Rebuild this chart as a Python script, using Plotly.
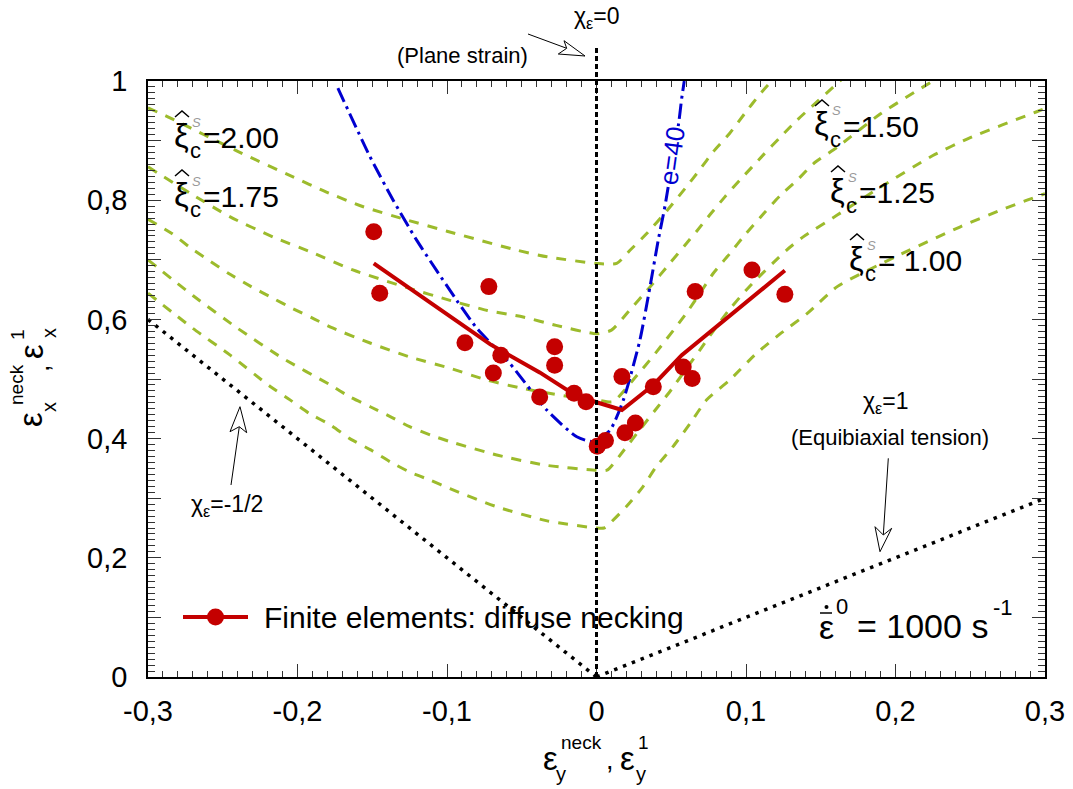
import plotly.graph_objects as go

FONT = "Liberation Sans, Arial, sans-serif"

# ---------------- data ----------------
# Finite element results (diffuse necking)
fe_x = [-0.149, -0.145, -0.072, -0.088, -0.064, -0.069, -0.028, -0.028, -0.038, -0.015, -0.007,
        0.017, 0.038, 0.058, 0.064, 0.066, 0.026, 0.019, 0.006, 0.0005, 0.104, 0.126]
fe_y = [0.747, 0.644, 0.655, 0.561, 0.540, 0.510, 0.554, 0.523, 0.470, 0.476, 0.462,
        0.504, 0.487, 0.520, 0.501, 0.647, 0.426, 0.410, 0.397, 0.387, 0.683, 0.642]
fe_fit_x = [-0.149, -0.071, -0.038, -0.015, 0.0, 0.017, 0.038, 0.057, 0.126]
fe_fit_y = [0.694, 0.558, 0.511, 0.474, 0.461, 0.448, 0.490, 0.540, 0.682]

# e = 40 curve
e40_x = [-0.173, -0.1515, -0.136, -0.1203, -0.0935, -0.080, -0.0579, -0.0333, -0.0132, -0.002,
         0.009, 0.018, 0.029, 0.0358, 0.0413, 0.0458, 0.051, 0.055, 0.057, 0.0587]
e40_y = [0.988, 0.873, 0.800, 0.733, 0.632, 0.585, 0.526, 0.448, 0.403, 0.395,
         0.414, 0.465, 0.565, 0.655, 0.733, 0.790, 0.870, 0.930, 0.971, 1.000]

# analytical curves for xi_c = 2.00, 1.75, 1.50, 1.25, 1.00
xi2_x = [-0.3, -0.286, -0.24, -0.203, -0.181, -0.156, -0.127, -0.1, -0.053, -0.033, 0.0, 0.0135,
         0.0224, 0.0336, 0.047, 0.060, 0.069, 0.078, 0.089, 0.099, 0.109, 0.119]
xi2_y = [0.955, 0.939, 0.882, 0.839, 0.814, 0.789, 0.767, 0.748, 0.716, 0.705, 0.694, 0.694,
         0.716, 0.744, 0.782, 0.822, 0.851, 0.881, 0.912, 0.945, 0.977, 1.005]

xi175_x = [-0.3, -0.272, -0.245, -0.216, -0.189, -0.163, -0.125, -0.098, -0.073, -0.049, -0.027, 0.0,
           0.010, 0.022, 0.036, 0.049, 0.060, 0.067, 0.076, 0.086, 0.096, 0.1116, 0.123, 0.134, 0.165]
xi175_y = [0.856, 0.812, 0.772, 0.738, 0.711, 0.683, 0.652, 0.632, 0.615, 0.604, 0.590, 0.576,
           0.582, 0.615, 0.655, 0.694, 0.727, 0.748, 0.776, 0.806, 0.834, 0.876, 0.906, 0.934, 1.005]

xi150_x = [-0.3, -0.284, -0.271, -0.258, -0.246, -0.231, -0.216, -0.203, -0.189, -0.177, -0.151,
           -0.125, -0.098, -0.073, -0.049, -0.022, 0.0, 0.011, 0.025, 0.040, 0.060, 0.069, 0.078,
           0.089, 0.100, 0.112, 0.123, 0.134, 0.145, 0.161, 0.19, 0.225]
xi150_y = [0.768, 0.744, 0.719, 0.697, 0.677, 0.655, 0.635, 0.618, 0.601, 0.586, 0.560,
           0.537, 0.518, 0.498, 0.484, 0.472, 0.465, 0.462, 0.500, 0.545, 0.610, 0.643, 0.677,
           0.710, 0.744, 0.778, 0.808, 0.833, 0.861, 0.889, 0.945, 1.0]

xi125_x = [-0.3, -0.27, -0.24, -0.21, -0.178, -0.165, -0.151, -0.138, -0.125, -0.111, -0.098, -0.066,
           -0.033, 0.0, 0.007, 0.020, 0.029, 0.040, 0.050, 0.060, 0.069, 0.078, 0.089, 0.103, 0.127,
           0.138, 0.161, 0.19, 0.225, 0.25, 0.294, 0.3]
xi125_y = [0.700, 0.640, 0.585, 0.535, 0.490, 0.470, 0.453, 0.437, 0.420, 0.406, 0.395, 0.372,
           0.355, 0.347, 0.347, 0.386, 0.415, 0.450, 0.482, 0.517, 0.548, 0.580, 0.617, 0.657, 0.716,
           0.738, 0.775, 0.822, 0.875, 0.905, 0.948, 0.954]

xi100_x = [-0.3, -0.27, -0.245, -0.218, -0.205, -0.192, -0.178, -0.165, -0.151, -0.138, -0.125, -0.111,
           -0.098, -0.066, -0.033, 0.0, 0.005, 0.009, 0.020, 0.031, 0.040, 0.051, 0.0625, 0.0737, 0.089,
           0.107, 0.123, 0.141, 0.161, 0.2, 0.243, 0.27, 0.288, 0.3]
xi100_y = [0.644, 0.585, 0.540, 0.487, 0.465, 0.442, 0.423, 0.400, 0.381, 0.361, 0.344, 0.330,
           0.316, 0.285, 0.262, 0.250, 0.250, 0.258, 0.286, 0.319, 0.353, 0.386, 0.425, 0.465, 0.498,
           0.543, 0.576, 0.610, 0.655, 0.705, 0.755, 0.783, 0.800, 0.811]

# strain-path reference lines
chi_m12_x = [-0.3, 0.0]
chi_m12_y = [0.6, 0.0]
chi_1_x = [0.0, 0.3]
chi_1_y = [0.0, 0.3]

x_ticks = [-0.3, -0.2, -0.1, 0.0, 0.1, 0.2, 0.3]
x_tick_text = ["-0,3", "-0,2", "-0,1", "0", "0,1", "0,2", "0,3"]
y_ticks = [0.0, 0.1, 0.2, 0.3, 0.4, 0.5, 0.6, 0.7, 0.8, 0.9, 1.0]
y_tick_text = ["0", " ", "0,2", " ", "0,4", " ", "0,6", " ", "0,8", " ", "1"]

# ---------------- styles ----------------
RED = "#C40000"
BLUE = "#0000D0"
GREEN = "#9CBB2C"

# ---------------- figure ----------------
fig = go.Figure()

for gx, gy in [(xi2_x, xi2_y), (xi175_x, xi175_y), (xi150_x, xi150_y),
               (xi125_x, xi125_y), (xi100_x, xi100_y)]:
    fig.add_trace(go.Scatter(x=gx, y=gy, mode="lines",
                             line=dict(color=GREEN, width=3, dash="10px,9px", shape="spline", smoothing=0.6),
                             hoverinfo="skip", showlegend=False))

fig.add_trace(go.Scatter(x=chi_m12_x, y=chi_m12_y, mode="lines",
                         line=dict(color="black", width=3.5, dash="3.5px,6px"), showlegend=False))
fig.add_trace(go.Scatter(x=chi_1_x, y=chi_1_y, mode="lines",
                         line=dict(color="black", width=3.5, dash="3.5px,6px"), showlegend=False))

fig.add_trace(go.Scatter(x=e40_x, y=e40_y, mode="lines",
                         line=dict(color=BLUE, width=3, dash="15px,5px,3px,5px", shape="spline", smoothing=0.6),
                         showlegend=False))

fig.add_trace(go.Scatter(x=fe_fit_x, y=fe_fit_y, mode="lines",
                         line=dict(color=RED, width=4), showlegend=False))
fig.add_trace(go.Scatter(x=fe_x, y=fe_y, mode="markers",
                         marker=dict(color=RED, size=17), showlegend=False))

L, R, T, B = 148, 1045, 81, 677
W_, H_ = R - L, B - T


def px(x):
    return (x - L) / W_


def py(y):
    return (B - y) / H_


def ann(x, y, text, size, color="black", xanchor="center", yanchor="middle", angle=0, **kw):
    return dict(x=px(x), y=py(y), xref="paper", yref="paper", text=text, showarrow=False,
                font=dict(size=size, color=color, family=FONT), xanchor=xanchor, yanchor=yanchor,
                textangle=angle, **kw)


annotations = []
shapes = []

# vertical plane-strain line (extends above frame)
shapes.append(dict(type="line", xref="x domain", yref="y domain", x0=0.5, x1=0.5, y0=0, y1=py(48),
                   line=dict(color="black", width=3, dash="5px,3px")))


def arrow(tail, notch, tip, b1, b2):
    shapes.append(dict(type="line", xref="paper", yref="paper", x0=px(tail[0]), y0=py(tail[1]),
                       x1=px(notch[0]), y1=py(notch[1]), line=dict(color="black", width=1)))
    pts = [tip, b1, notch, b2]
    path = "M " + " L ".join(f"{px(a):.5f},{py(b):.5f}" for a, b in pts) + " Z"
    shapes.append(dict(type="path", xref="paper", yref="paper", path=path, fillcolor="white",
                       line=dict(color="black", width=1)))


arrow((528, 34), (566.7, 48.3), (585, 56), (564, 40.7), (558.3, 54))
arrow((231, 485), (239.3, 426.7), (240, 406.7), (230, 431.7), (246.7, 432.7))
arrow((888.3, 458.3), (883.3, 535), (880, 551.7), (875, 526.7), (891.7, 528.3))

# labels of strain paths
annotations.append(ann(597, 18, "χ<sub>ε</sub>=0", 23))
annotations.append(ann(462, 55, "(Plane strain)", 22))
annotations.append(ann(227, 505, "χ<sub>ε</sub>=-1/2", 23))
annotations.append(ann(886, 403, "χ<sub>ε</sub>=1", 23))
annotations.append(ann(890, 438, "(Equibiaxial tension)", 22))

# e = 40
annotations.append(ann(672, 156, "e=40", 26, color=BLUE, angle=-82, bgcolor="white", borderpad=0))


# xi labels: hat-xi with subscript c and (grey, script) superscript S
def xi_label(xx, yy, value):
    annotations.append(ann(xx, yy, "ξ", 33))
    hat = [(xx - 6, yy - 18), (xx + 1, yy - 24), (xx + 8, yy - 18)]
    path = "M " + " L ".join(f"{px(a):.5f},{py(b):.5f}" for a, b in hat)
    shapes.append(dict(type="path", xref="paper", yref="paper", path=path,
                       line=dict(color="black", width=1.5)))
    annotations.append(ann(xx + 14, yy + 15, "c", 22))
    annotations.append(ann(xx + 15, yy - 13, "<i>S</i>", 13, color="#9a9a9a"))
    annotations.append(ann(xx + 20, yy + 2, value, 30, xanchor="left"))


xi_label(181, 135, "=2.00")
xi_label(181, 194, "=1.75")
xi_label(821, 124, "=1.50")
xi_label(837, 190, "=1.25")
xi_label(856, 258, "= 1.00")

# strain-rate label: epsilon with bar and dot, superscript 0
annotations.append(ann(826, 627, "ε", 34))
shapes.append(dict(type="line", xref="paper", yref="paper", x0=px(820), x1=px(832), y0=py(613), y1=py(613),
                   line=dict(color="black", width=1.5)))
shapes.append(dict(type="circle", xref="paper", yref="paper", x0=px(824.5), x1=px(828.5), y0=py(609), y1=py(605),
                   fillcolor="black", line=dict(width=0)))
annotations.append(ann(834, 606, "0", 22, xanchor="left"))
annotations.append(ann(855, 626, "= 1000 s", 34, xanchor="left"))
annotations.append(ann(991, 607, "-1", 22, xanchor="left"))

# legend (drawn manually)
shapes.append(dict(type="line", xref="paper", yref="paper", x0=px(183), x1=px(248), y0=py(617), y1=py(617),
                   line=dict(color=RED, width=4)))
shapes.append(dict(type="circle", xref="paper", yref="paper", x0=px(207), x1=px(224), y0=py(625.5), y1=py(608.5),
                   fillcolor=RED, line=dict(color=RED, width=0)))
annotations.append(ann(262, 617, "Finite elements: diffuse necking", 30, xanchor="left"))

# axis titles built from pieces (stacked super/subscripts)
annotations.append(ann(550, 758, "ε", 33))
annotations.append(ann(559, 743, "neck", 19, xanchor="left"))
annotations.append(ann(561, 774, "y", 20))
annotations.append(ann(610, 760, ",", 27))
annotations.append(ann(627, 758, "ε", 33))
annotations.append(ann(636, 743, "1", 19, xanchor="left"))
annotations.append(ann(641, 774, "y", 20))

annotations.append(ann(31, 420, "ε", 33, angle=-90))
annotations.append(ann(17, 385, "neck", 19, angle=-90))
annotations.append(ann(49, 407, "x", 20, angle=-90))
annotations.append(ann(40, 368, ",", 27, angle=-90))
annotations.append(ann(31, 352, "ε", 33, angle=-90))
annotations.append(ann(17, 335, "1", 19, angle=-90))
annotations.append(ann(49, 333, "x", 20, angle=-90))

axis_common = dict(showline=True, linecolor="black", linewidth=1.5, mirror="allticks",
                   ticks="inside", ticklen=13, tickwidth=1, tickcolor="#333",
                   showgrid=False, zeroline=False,
                   tickfont=dict(family=FONT, size=29, color="black"))

fig.update_xaxes(range=[-0.3, 0.3], tickvals=x_ticks, ticktext=x_tick_text,
                 minor=dict(dtick=0.01, ticklen=6, ticks="inside", tickcolor="#333", tickwidth=1),
                 ticklabelstandoff=7, **axis_common)
fig.update_yaxes(range=[0, 1], tickvals=y_ticks, ticktext=y_tick_text,
                 minor=dict(dtick=0.01, ticklen=7, ticks="inside", tickcolor="#333", tickwidth=1),
                 ticklabelstandoff=13, **axis_common)

fig.update_layout(width=1073, height=789, plot_bgcolor="white", paper_bgcolor="white",
                  margin=dict(l=L, r=1073 - R, t=T, b=789 - B, autoexpand=False),
                  showlegend=False, annotations=annotations, shapes=shapes,
                  font=dict(family=FONT))

fig.write_html("out.html")
